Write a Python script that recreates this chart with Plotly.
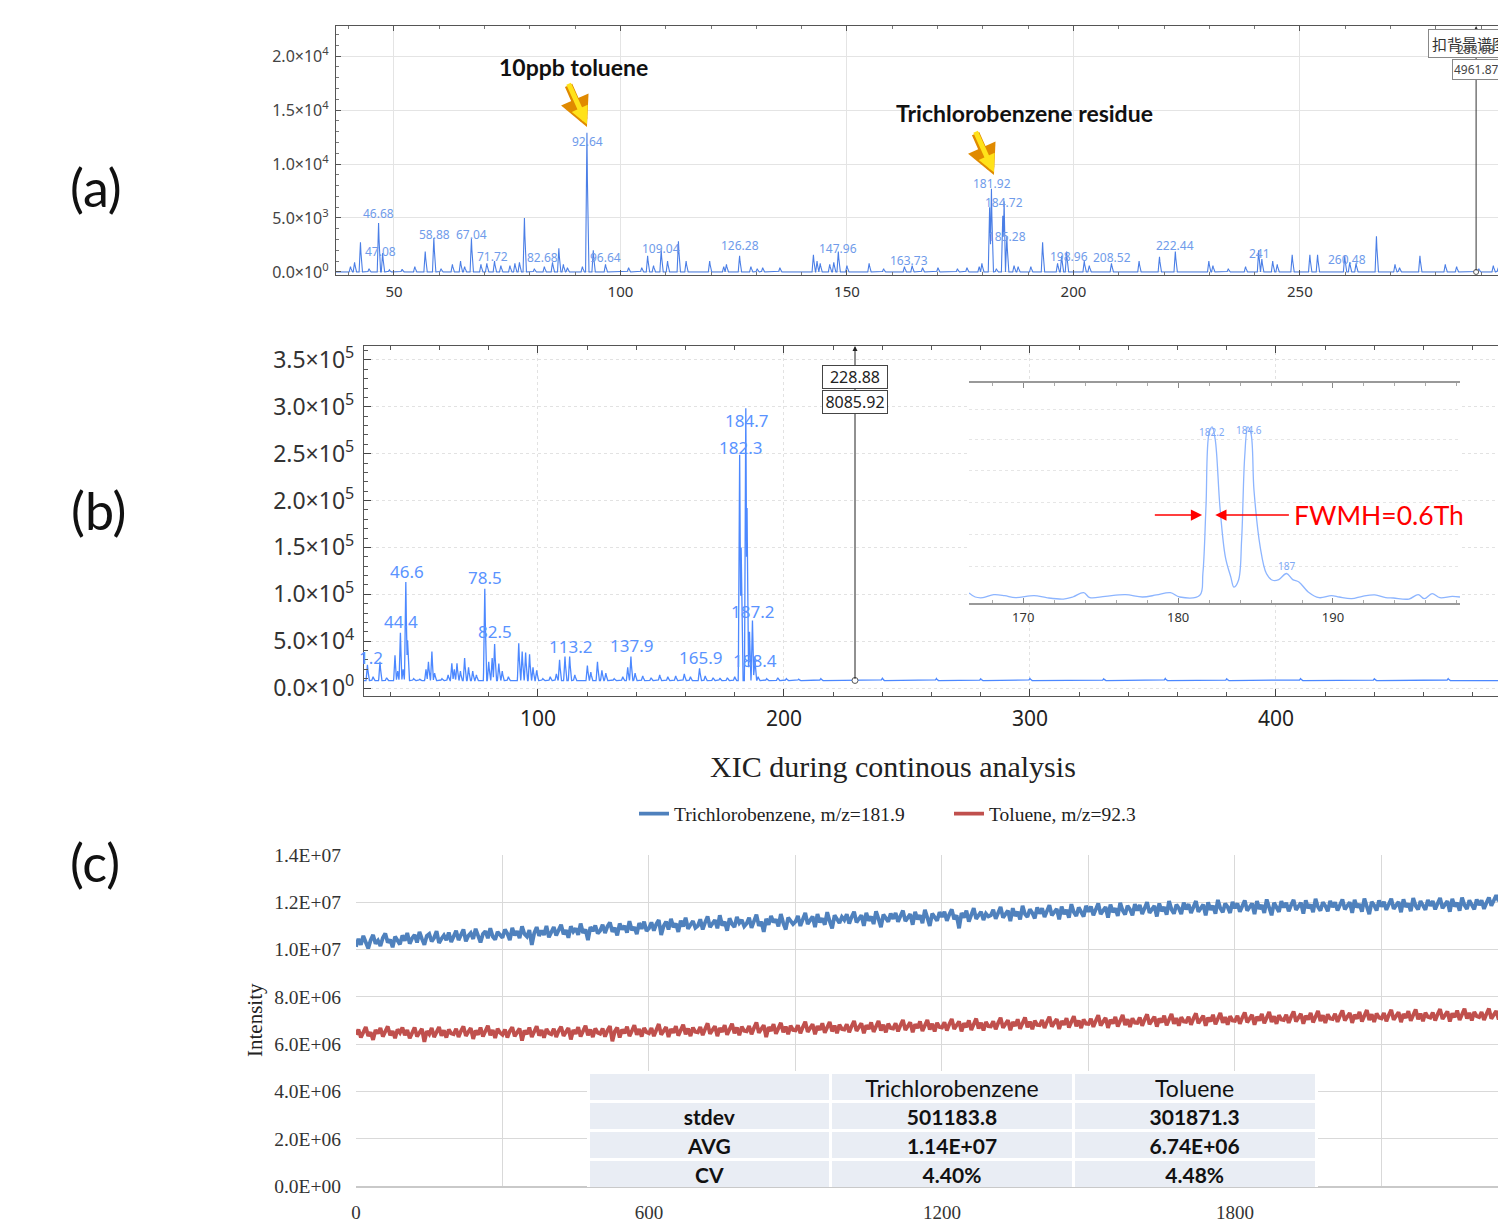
import numpy as np
import plotly.graph_objects as go

W, H = 1506, 1228
OFF = 8                      # default page margin of the html body
FW, FH = W - OFF, H - OFF

# ---------------- Panel (a): background-subtracted spectrum ----------------
a_mz = [40.4, 41.3, 42.6, 44.5, 46.6, 47.5, 49.0, 51.8, 54.6, 56.9, 58.8, 60.4, 62.9, 64.7, 65.6,
        67.1, 69.2, 70.5, 72.2, 73.6, 75.6, 76.7, 77.7, 78.8, 81.0, 83.2, 85.0, 86.4, 87.4, 88.3,
        91.6, 92.6, 94.0, 96.7, 101.8, 104.7, 106.0, 107.3, 109.0, 110.4, 112.8, 114.5, 119.7,
        122.8, 123.4, 126.3, 128.8, 130.2, 131.4, 135.2, 142.6, 143.4, 144.1, 146.2, 147.1, 148.1,
        150.0, 154.9, 158.1, 162.7, 164.4, 166.7, 170.1, 174.4, 176.5, 179.2, 179.8, 181.5, 181.9,
        183.0, 184.4, 184.7, 185.3, 186.9, 187.8, 190.6, 193.2, 196.5, 197.4, 198.5, 202.4, 203.5,
        208.4, 214.5, 219.0, 222.5, 229.9, 230.8, 234.2, 238.0, 240.9, 241.6, 244.0, 245.0, 248.3,
        252.2, 253.9, 259.9, 261.0, 262.4, 266.9, 271.0, 272.0, 276.5, 282.1, 284.6, 289.5, 292.7, 293.8]
a_int = [500, 900, 2750, 300, 4540, 1760, 200, 250, 500, 1900, 3150, 300, 700, 1000, 500,
         3060, 700, 800, 1000, 600, 600, 800, 900, 5000, 300, 500, 900, 2200, 700, 400,
         500, 12900, 2000, 700, 400, 400, 1500, 600, 2000, 1000, 2840, 1000, 1000,
         500, 700, 1500, 500, 300, 400, 400, 1600, 1000, 800, 700, 900, 1900,
         600, 800, 300, 500, 600, 400, 400, 300, 400, 500, 800, 6000, 7700,
         300, 5200, 6550, 3300, 600, 500, 500, 2750, 800, 1500, 1900, 1000, 600,
         800, 1000, 1400, 1900, 1000, 600, 300, 500, 2000, 1200, 1000, 700, 1600,
         1600, 1600, 1500, 900, 800, 3300, 700, 400, 1500, 700, 500, 300, 600, 400]
a_lab_text = ["46.68", "47.08", "58.88", "67.04", "71.72", "82.68", "92.64", "96.64", "109.04", "126.28",
              "147.96", "163.73", "181.92", "184.72", "185.28", "198.96", "208.52", "222.44", "241", "260.48"]
a_lab_y = [5460, 1940, 3430, 3430, 1480, 1300, 12130, 1300, 2130, 2410,
           2130, 1020, 8240, 6390, 3330, 1480, 1300, 2410, 1670, 1110]
a_ticks = [0, 5000, 10000, 15000, 20000]
a_ticktext = ["0.0×10<sup>0</sup>", "5.0×10<sup>3</sup>", "1.0×10<sup>4</sup>",
              "1.5×10<sup>4</sup>", "2.0×10<sup>4</sup>"]
a_cursor = (288.9, 4961.87)

# ---------------- Panel (b): full spectrum ----------------
b_base = 8000
b_mz = [30.7, 33.0, 35.8, 38.5, 41.9, 43.0, 44.1, 45.2, 46.3, 47.0, 49.5, 52.0, 54.5, 55.5, 56.9,
        58.0, 61.0, 63.5, 65.0, 66.0, 67.1, 68.5, 70.2, 71.8, 73.5, 75.0, 78.4, 80.0, 81.4, 82.4,
        84.1, 85.5, 88.0, 92.2, 93.6, 95.0, 96.6, 98.0, 99.5, 102.0, 105.0, 107.5, 108.8, 111.0,
        112.9, 115.0, 120.1, 121.5, 124.2, 126.0, 127.6, 131.0, 134.5, 136.5, 137.8, 139.5, 142.6,
        146.0, 149.5, 152.8, 156.0, 159.5, 162.0, 165.7, 168.0, 171.2, 174.0, 177.0, 180.0, 182.0,
        182.6, 184.5, 185.0, 186.0, 187.2, 188.2, 189.5, 193.0, 197.5, 201.0, 206.0, 215.0, 240.0,
        262.0, 280.0, 300.0, 330.0, 355.0, 380.0, 410.0, 440.0, 470.0]
b_int = [24700, 12000, 28000, 11000, 35000, 18000, 59000, 20000, 113000, 51000, 10000, 9500, 20000, 28000, 39000,
         16000, 10000, 14000, 26500, 20000, 26500, 18000, 32000, 22000, 18000, 14000, 106000, 28000, 32000, 47000,
         26000, 18000, 12000, 47700, 39000, 38000, 36000, 22000, 19000, 10000, 12000, 15000, 30000, 33500,
         33500, 14000, 24000, 17000, 28000, 19000, 16000, 10000, 12000, 22000, 33500, 16000, 13000,
         11000, 14000, 12000, 13000, 15000, 12000, 21000, 13000, 11000, 10500, 11000, 12000, 249000,
         150000, 298600, 192000, 60000, 72000, 33000, 12000, 10000, 11000, 10000, 9500, 10000, 10500,
         10200, 9800, 10300, 9900, 10200, 9800, 10100, 9900, 10000]
b_lab_text = ["1.2", "46.6", "44.4", "78.5", "82.5", "113.2", "137.9", "165.9", "184.7", "182.3", "187.2", "188.4"]
b_lab_x = [32.3, 46.6, 44.4, 78.5, 82.5, 113.2, 137.9, 165.9, 184.7, 182.3, 187.2, 188.4]
b_lab_y = [32900, 124200, 71100, 117800, 60500, 44600, 45650, 32900, 285600, 256900, 81700, 29700]
b_ticks = [0, 50000, 100000, 150000, 200000, 250000, 300000, 350000]
b_ticktext = ["0.0×10<sup>0</sup>", "5.0×10<sup>4</sup>", "1.0×10<sup>5</sup>", "1.5×10<sup>5</sup>",
              "2.0×10<sup>5</sup>", "2.5×10<sup>5</sup>", "3.0×10<sup>5</sup>", "3.5×10<sup>5</sup>"]
b_cursor = (228.88, 8085.92)

# inset (zoom of 166-198)
in_x = [166.5, 166.9, 167.4, 168.1, 168.8, 169.5, 170.7, 171.5, 172.6, 173.2, 173.9, 174.3, 175.3,
        176.6, 177.7, 178.6, 179.5, 180.1, 181.4, 181.6, 181.8, 182.0, 182.2, 182.4, 182.7, 183.05,
        183.4, 183.6, 183.9, 184.1, 184.3, 184.5, 184.7, 184.9, 185.3, 185.7, 186.1, 186.5, 187.0,
        187.4, 187.8, 188.4, 189.1, 189.9, 190.4, 191.2, 191.9, 192.7, 193.4, 193.9, 194.9, 195.5,
        195.9, 196.4, 196.9, 197.7, 198.2]
in_y = [2.4, 0.0, -0.4, 1.4, 0.8, -0.4, 0.8, -0.4, -1.2, 0.0, 2.6, -0.4, 0.4,
        1.4, 0.0, 1.2, 2.6, 0.0, 1.0, 13.9, 53.5, 97.0, 100.6, 93.0, 53.5, 23.8,
        11.9, 5.9, 9.9, 33.7, 83.0, 100.6, 97.0, 63.0, 29.7, 13.9, 9.9, 10.3, 13.9,
        10.3, 8.9, 3.0, -0.4, 0.8, 0.0, -1.0, 0.4, 1.2, -0.4, -0.6, -1.2, 1.4,
        -1.0, 2.0, -0.4, 0.4, 0.0]
in_lab_text = ["182.2", "184.6", "187"]
in_lab_x = [182.2, 184.6, 187.0]
in_lab_y = [97.6, 98.8, 18.3]

# ---------------- Panel (c): XIC (intensity in units of 1e4 counts, one value every 5 s) ----------------
t_sec = list(range(0, 2355, 5))
tcb_e4 = [
    1012, 1045, 1020, 1058, 1031, 1005, 1040, 1062, 1025, 1038, 1015, 1050, 1068, 1030, 1042, 1010, 1055, 1035, 1022, 1060,
    1038, 1070, 1025, 1048, 1062, 1030, 1075, 1045, 1020, 1058, 1066, 1035, 1050, 1078, 1028, 1046, 1060, 1040, 1072, 1032,
    1055, 1080, 1040, 1062, 1085, 1035, 1058, 1070, 1045, 1088, 1052, 1030, 1066, 1078, 1048, 1090, 1055, 1042, 1075, 1060,
    1050, 1085, 1068, 1040, 1092, 1060, 1078, 1048, 1098, 1066, 1055, 1082, 1020, 1070, 1095, 1058, 1080, 1062, 1100, 1052,
    1072, 1095, 1060, 1088, 1105, 1065, 1082, 1050, 1098, 1076, 1090, 1062, 1110, 1070, 1085, 1040, 1095, 1078, 1102, 1068,
    1080, 1105, 1070, 1098, 1115, 1075, 1092, 1060, 1110, 1085, 1100, 1072, 1120, 1082, 1095, 1065, 1112, 1088, 1118, 1078,
    1090, 1115, 1080, 1108, 1125, 1062, 1100, 1118, 1085, 1130, 1095, 1110, 1075, 1122, 1098, 1135, 1088, 1105, 1120, 1092,
    1100, 1128, 1085, 1115, 1140, 1095, 1110, 1125, 1090, 1145, 1102, 1118, 1080, 1132, 1108, 1095, 1138, 1112, 1125, 1098,
    1110, 1135, 1092, 1125, 1148, 1100, 1118, 1075, 1130, 1105, 1142, 1115, 1128, 1098, 1150, 1112, 1085, 1135, 1120, 1108,
    1118, 1142, 1100, 1130, 1155, 1108, 1125, 1140, 1095, 1150, 1115, 1132, 1105, 1158, 1120, 1090, 1145, 1128, 1112, 1138,
    1125, 1150, 1110, 1138, 1160, 1115, 1132, 1145, 1100, 1155, 1122, 1140, 1108, 1162, 1130, 1095, 1148, 1135, 1118, 1152,
    1130, 1155, 1118, 1142, 1165, 1120, 1138, 1150, 1105, 1160, 1128, 1145, 1112, 1168, 1135, 1100, 1152, 1140, 1122, 1158,
    1138, 1160, 1122, 1148, 1170, 1128, 1145, 1090, 1155, 1135, 1165, 1118, 1150, 1175, 1130, 1142, 1160, 1125, 1152, 1140,
    1145, 1168, 1130, 1155, 1180, 1135, 1152, 1165, 1120, 1175, 1142, 1160, 1128, 1185, 1150, 1138, 1170, 1155, 1132, 1178,
    1152, 1175, 1138, 1162, 1188, 1145, 1160, 1172, 1128, 1182, 1150, 1168, 1135, 1192, 1158, 1142, 1178, 1162, 1140, 1185,
    1160, 1182, 1145, 1170, 1195, 1150, 1168, 1180, 1135, 1190, 1158, 1175, 1142, 1198, 1165, 1148, 1185, 1170, 1145, 1192,
    1165, 1188, 1150, 1175, 1200, 1155, 1172, 1185, 1140, 1195, 1162, 1180, 1148, 1205, 1170, 1152, 1190, 1175, 1150, 1198,
    1170, 1192, 1155, 1180, 1205, 1160, 1176, 1190, 1145, 1200, 1168, 1185, 1152, 1210, 1175, 1158, 1195, 1180, 1155, 1202,
    1175, 1195, 1160, 1185, 1208, 1165, 1180, 1195, 1150, 1205, 1172, 1188, 1155, 1212, 1178, 1145, 1198, 1182, 1160, 1205,
    1178, 1198, 1162, 1188, 1210, 1168, 1182, 1198, 1152, 1208, 1175, 1190, 1158, 1215, 1180, 1165, 1200, 1185, 1162, 1206,
    1180, 1200, 1165, 1190, 1212, 1170, 1185, 1200, 1155, 1210, 1178, 1192, 1160, 1216, 1182, 1150, 1202, 1188, 1165, 1208,
    1182, 1202, 1168, 1192, 1215, 1172, 1188, 1202, 1158, 1212, 1180, 1195, 1162, 1218, 1185, 1170, 1205, 1190, 1168, 1210,
    1185, 1205, 1170, 1195, 1218, 1175, 1190, 1205, 1160, 1215, 1182, 1198, 1165, 1220, 1188, 1172, 1208, 1192, 1170, 1212,
    1188, 1208, 1172, 1198, 1220, 1185, 1210, 1230, 1205, 1245, 1262]
tol_e4 = [
    640, 662, 628, 655, 672, 635, 650, 618, 660, 645, 668, 632, 652, 675, 638, 655, 625, 662, 648, 670,
    638, 660, 625, 652, 670, 632, 648, 665, 610, 655, 642, 668, 630, 650, 672, 636, 658, 628, 662, 645,
    642, 665, 630, 655, 675, 635, 650, 668, 622, 658, 640, 670, 632, 652, 678, 638, 660, 626, 665, 648,
    640, 662, 628, 655, 672, 633, 650, 666, 615, 658, 642, 670, 630, 652, 676, 636, 660, 627, 664, 646,
    642, 665, 630, 656, 674, 635, 652, 668, 620, 660, 644, 672, 632, 654, 678, 638, 662, 630, 666, 648,
    644, 666, 632, 658, 676, 612, 654, 670, 628, 662, 646, 674, 634, 656, 680, 640, 664, 632, 668, 650,
    646, 668, 634, 660, 685, 640, 656, 672, 630, 664, 648, 676, 636, 658, 682, 642, 666, 634, 670, 652,
    650, 672, 638, 664, 688, 644, 660, 676, 634, 668, 652, 680, 640, 662, 686, 646, 670, 638, 674, 656,
    654, 676, 642, 668, 692, 648, 664, 680, 630, 672, 656, 684, 644, 666, 690, 650, 674, 642, 678, 660,
    658, 680, 646, 672, 695, 652, 668, 684, 642, 676, 660, 688, 648, 670, 694, 654, 678, 646, 682, 664,
    662, 684, 650, 676, 698, 656, 672, 688, 646, 680, 664, 692, 652, 674, 698, 658, 682, 650, 686, 668,
    666, 688, 654, 680, 702, 660, 676, 692, 650, 684, 668, 696, 656, 678, 702, 662, 686, 654, 690, 672,
    670, 692, 658, 684, 706, 664, 680, 696, 654, 688, 672, 700, 660, 682, 708, 666, 690, 658, 694, 676,
    675, 697, 663, 689, 712, 669, 685, 701, 659, 693, 677, 705, 665, 687, 713, 671, 695, 663, 699, 681,
    680, 702, 668, 694, 716, 674, 690, 706, 664, 698, 682, 710, 670, 692, 718, 676, 700, 668, 704, 686,
    685, 707, 673, 699, 722, 679, 695, 711, 669, 703, 687, 715, 675, 697, 723, 681, 705, 673, 709, 691,
    690, 712, 678, 704, 726, 684, 700, 716, 674, 708, 692, 720, 680, 702, 728, 686, 710, 678, 714, 696,
    694, 716, 682, 708, 730, 688, 704, 720, 678, 712, 696, 724, 684, 706, 732, 690, 714, 682, 718, 700,
    698, 720, 686, 712, 734, 692, 708, 724, 682, 716, 700, 728, 688, 710, 736, 694, 718, 686, 722, 704,
    702, 724, 690, 716, 738, 696, 712, 728, 686, 720, 704, 732, 692, 714, 740, 698, 722, 690, 726, 708,
    706, 728, 694, 720, 742, 700, 716, 732, 690, 724, 708, 736, 696, 718, 744, 702, 726, 694, 730, 712,
    709, 731, 697, 723, 745, 703, 719, 735, 693, 727, 711, 739, 699, 721, 747, 705, 729, 697, 733, 715,
    712, 734, 700, 726, 748, 706, 722, 738, 696, 730, 714, 742, 702, 724, 750, 708, 732, 700, 736, 718,
    714, 736, 702, 728, 750, 708, 724, 740, 704, 732, 716]
c_ticks = [0, 2e6, 4e6, 6e6, 8e6, 10e6, 12e6, 14e6]
c_ticktext = ["0.0E+00", "2.0E+06", "4.0E+06", "6.0E+06", "8.0E+06", "1.0E+07", "1.2E+07", "1.4E+07"]
c_xticks = [0, 300, 600, 900, 1200, 1500, 1800, 2100, 2400]
c_xticktext = ["0", "", "600", "", "1200", "", "1800", "", "2400"]

tbl_header = ["", "Trichlorobenzene", "Toluene"]
tbl_rows = ["stdev", "AVG", "CV"]
tbl_tcb = ["501183.8", "1.14E+07", "4.40%"]
tbl_tol = ["301871.3", "6.74E+06", "4.48%"]


# ---------------- helpers (reference pixel -> paper) ----------------
def px(x):
    return (x - OFF) / FW


def py(y):
    return 1 - (y - OFF) / FH


def render(mz, inten, base, hw, lo, hi, step):
    x = np.arange(lo, hi, step)
    y = np.full_like(x, float(base))
    for m, v in zip(mz, inten):
        tri = base + (v - base) * np.clip(1 - np.abs(x - m) / hw, 0, None)
        y = np.maximum(y, tri)
    return x, y


def paper_text(x, y, text, font, **kw):
    d = dict(x=px(x), y=py(y), xref="paper", yref="paper", text=text, showarrow=False,
             xanchor="center", yanchor="middle", font=font)
    d.update(kw)
    return d


A_LINE = "#4A7EE6"
A_LAB = "#6F9BEA"
B_LINE = "#4C88FF"
B_LAB = "#5A93FF"

fig = go.Figure()

ax_x, ax_y = render(a_mz, a_int, 0, 0.3, 37.2, 295.5, 0.05)
fig.add_trace(go.Scatter(x=ax_x, y=ax_y, mode="lines", line=dict(color=A_LINE, width=1.1),
                         xaxis="x", yaxis="y", showlegend=False, hoverinfo="skip"))
fig.add_trace(go.Scatter(x=[a_cursor[0]], y=[0], mode="markers",
                         marker=dict(size=5, color="white", line=dict(color="#555", width=1)),
                         xaxis="x", yaxis="y", showlegend=False, hoverinfo="skip"))

bx_x, bx_y = render(b_mz, b_int, b_base, 0.55, 29.3, 493.5, 0.1)
fig.add_trace(go.Scatter(x=bx_x, y=bx_y, mode="lines", line=dict(color=B_LINE, width=1.3),
                         xaxis="x2", yaxis="y2", showlegend=False, hoverinfo="skip"))
fig.add_trace(go.Scatter(x=[b_cursor[0]], y=[b_cursor[1]], mode="markers",
                         marker=dict(size=6, color="white", line=dict(color="#555", width=1)),
                         xaxis="x2", yaxis="y2", showlegend=False, hoverinfo="skip"))

fig.add_trace(go.Scatter(x=in_x, y=in_y, mode="lines", line=dict(color="#8DB5FF", width=1.3, shape="spline"),
                         xaxis="x3", yaxis="y3", showlegend=False, hoverinfo="skip"))

fig.add_trace(go.Scatter(x=t_sec, y=[v * 1e4 for v in tcb_e4], mode="lines",
                         name="Trichlorobenzene, m/z=181.9",
                         line=dict(color="#4F81BD", width=3.8), xaxis="x4", yaxis="y4"))
fig.add_trace(go.Scatter(x=t_sec, y=[v * 1e4 for v in tol_e4], mode="lines",
                         name="Toluene, m/z=92.3",
                         line=dict(color="#C0504D", width=3.8), xaxis="x4", yaxis="y4"))

fig.add_trace(go.Table(
    domain=dict(x=[px(588), px(1316)], y=[py(1188), py(1072)]),
    columnwidth=[1, 1, 1],
    header=dict(values=tbl_header, fill_color="#E9EDF4", line=dict(color="white", width=3),
                font=dict(family="Lato", size=23, color="#111"), height=29, align="center"),
    cells=dict(values=[tbl_rows, tbl_tcb, tbl_tol],
               fill_color="#E9EDF4", line=dict(color="white", width=3),
               font=dict(family="Lato", size=21, color="#111", weight="bold"), height=29, align="center"),
))

# ---------------- axes ----------------
frame = dict(showline=True, linecolor="#555", linewidth=1.2, mirror="ticks", ticks="inside",
             zeroline=False, automargin=False)
fig.update_layout(
    xaxis=dict(domain=[px(336), 1.0], range=[37.2, 295.5], anchor="y", **frame,
               tickvals=[50, 100, 150, 200, 250], ticklen=5, tickcolor="#555",
               minor=dict(dtick=10, ticks="inside", ticklen=3, tickcolor="#777", showgrid=False),
               showgrid=True, gridcolor="#E4E4E4",
               tickfont=dict(family="Noto Sans", size=15, color="#333"), ticklabelstandoff=3),
    yaxis=dict(domain=[py(275), py(26)], range=[-280, 22780], anchor="x", **frame,
               tickvals=a_ticks, ticktext=a_ticktext, ticklen=5, tickcolor="#555",
               minor=dict(dtick=1000, ticks="inside", ticklen=3, tickcolor="#777", showgrid=False),
               showgrid=True, gridcolor="#E4E4E4",
               tickfont=dict(family="Noto Sans", size=16, color="#444"), ticklabelstandoff=3),
    xaxis2=dict(domain=[px(364), 1.0], range=[29.3, 493.5], anchor="y2", **frame,
                tickvals=[100, 200, 300, 400], ticklen=7, tickcolor="#444",
                minor=dict(dtick=20, ticks="inside", ticklen=4, tickcolor="#555", showgrid=False),
                showgrid=True, gridcolor="#E2E2E2", griddash="dot",
                tickfont=dict(family="Noto Sans", size=21, color="#222"), ticklabelstandoff=4),
    yaxis2=dict(domain=[py(696), py(346)], range=[-8500, 364900], anchor="x2", **frame,
                tickvals=b_ticks, ticktext=b_ticktext, ticklen=7, tickcolor="#444",
                minor=dict(dtick=10000, ticks="inside", ticklen=4, tickcolor="#555", showgrid=False),
                showgrid=True, gridcolor="#E2E2E2", griddash="dot",
                tickfont=dict(family="Noto Sans", size=23, color="#333"), ticklabelstandoff=4),
    xaxis3=dict(domain=[px(969), px(1460)], range=[166.5, 198.2], anchor="y3",
                showline=True, linecolor="#999", linewidth=1.6, mirror="ticks", ticks="inside",
                tickvals=[170, 180, 190], ticklen=5, tickcolor="#888", automargin=False,
                minor=dict(dtick=2, ticks="inside", ticklen=3, tickcolor="#aaa", showgrid=False),
                showgrid=False, zeroline=False,
                tickfont=dict(family="Noto Sans", size=13, color="#333"), ticklabelstandoff=2),
    yaxis3=dict(domain=[py(603), py(383)], range=[-3.55, 126.6], anchor="x3", automargin=False,
                showline=False, showticklabels=False, ticks="", zeroline=False,
                tickvals=[18, 37, 56, 75, 93, 111], showgrid=True, gridcolor="#E6E6E6", griddash="dot"),
    xaxis4=dict(domain=[px(356), 1.0], range=[0, 2355], anchor="y4", automargin=False,
                tickvals=c_xticks, ticktext=c_xticktext, ticks="",
                showgrid=True, gridcolor="#D9D9D9", zeroline=False,
                showline=True, linecolor="#C9C9C9", linewidth=1.5,
                tickfont=dict(family="Liberation Serif", size=19, color="#333"), ticklabelstandoff=8),
    yaxis4=dict(domain=[py(1186), py(855)], range=[0, 1.4e7], anchor="x4", automargin=False,
                tickvals=c_ticks, ticktext=c_ticktext, ticks="",
                showgrid=True, gridcolor="#D9D9D9", zeroline=False, showline=False,
                tickfont=dict(family="Liberation Serif", size=19.5, color="#333"), ticklabelstandoff=14),
)

# ---------------- annotations ----------------
ann = []
for t, y in zip(a_lab_text, a_lab_y):
    ann.append(dict(x=float(t), y=y, xref="x", yref="y", text=t, showarrow=False,
                    xanchor="center", yanchor="middle",
                    font=dict(family="Noto Sans", size=12, color=A_LAB)))
for t, x, y in zip(b_lab_text, b_lab_x, b_lab_y):
    ann.append(dict(x=x, y=y, xref="x2", yref="y2", text=t, showarrow=False,
                    xanchor="center", yanchor="middle",
                    font=dict(family="Noto Sans", size=17, color=B_LAB)))
for t, x, y in zip(in_lab_text, in_lab_x, in_lab_y):
    ann.append(dict(x=x, y=y, xref="x3", yref="y3", text=t, showarrow=False,
                    xanchor="center", yanchor="middle",
                    font=dict(family="Noto Sans", size=10, color="#7EA8F5")))

# yellow arrows (a)
for (hx, hy) in [(92.6, 13430), (182.45, 8980)]:
    ann.append(dict(x=hx, y=hy, xref="x", yref="y", ax=-19, ay=-43, text="", showarrow=True,
                    arrowhead=2, arrowsize=0.75, arrowwidth=8, arrowcolor="#E08A00"))
    ann.append(dict(x=hx, y=hy + 250, xref="x", yref="y", ax=-19, ay=-42, text="", showarrow=True,
                    arrowhead=2, arrowsize=0.7, arrowwidth=5, arrowcolor="#FFE21A"))
ann.append(paper_text(573, 67, "<b>10ppb toluene</b>", dict(family="Lato", size=23, color="#111")))
ann.append(paper_text(1024, 113, "<b>Trichlorobenzene residue</b>", dict(family="Lato", size=23, color="#111")))

# cursors
ann.append(dict(x=a_cursor[0], y=22780, xref="x", yref="y", ax=a_cursor[0], ay=0, axref="x", ayref="y",
                text="", showarrow=True, arrowhead=2, arrowsize=1, arrowwidth=1, arrowcolor="#333"))
ann.append(paper_text(1428, 44, "扣背景谱图", dict(family="Noto Sans CJK SC", size=15, color="#333"),
                      xanchor="left", bgcolor="white", bordercolor="#888", borderwidth=1, borderpad=3))
ann.append(paper_text(1476, 49, "288.08", dict(family="Noto Sans", size=12, color="#555")))
ann.append(paper_text(1476, 69, "%.2f" % a_cursor[1], dict(family="Noto Sans", size=12, color="#444"),
                      bgcolor="white", bordercolor="#888", borderwidth=1, borderpad=1))

ann.append(dict(x=b_cursor[0], y=364900, xref="x2", yref="y2", ax=b_cursor[0], ay=b_cursor[1],
                axref="x2", ayref="y2", text="", showarrow=True, arrowhead=2, arrowsize=1,
                arrowwidth=1, arrowcolor="#222"))
ann.append(paper_text(854.5, 377, "%.2f" % b_cursor[0], dict(family="Noto Sans", size=16, color="#222"),
                      bgcolor="white", bordercolor="#444", borderwidth=1, width=62, height=20))
ann.append(paper_text(854.5, 402, "%.2f" % b_cursor[1], dict(family="Noto Sans", size=16, color="#222"),
                      bgcolor="white", bordercolor="#444", borderwidth=1, width=62, height=20))

# FWHM arrows (inset)
ann.append(dict(x=181.55, y=48.5, xref="x3", yref="y3", ax=178.4, ay=48.5, axref="x3", ayref="y3",
                text="", showarrow=True, arrowhead=2, arrowsize=1.5, arrowwidth=1.5, arrowcolor="#FF0000"))
ann.append(dict(x=182.4, y=48.5, xref="x3", yref="y3", ax=187.25, ay=48.5, axref="x3", ayref="y3",
                text="", showarrow=True, arrowhead=2, arrowsize=1.5, arrowwidth=1.5, arrowcolor="#FF0000"))
ann.append(dict(x=187.35, y=48.5, xref="x3", yref="y3", xanchor="left", yanchor="middle", text="FWMH=0.6Th",
                showarrow=False, font=dict(family="Lato", size=26.5, color="#FF0000")))

# panel (c) texts
ann.append(paper_text(893, 766, "XIC during continous analysis",
                      dict(family="Liberation Serif", size=30, color="#222")))
ann.append(paper_text(255, 1020, "Intensity", dict(family="Liberation Serif", size=21, color="#222"),
                      textangle=-90))

# panel letters
for lab, xx, yy in [("(a)", 96, 187), ("(b)", 98, 510), ("(c)", 95, 862)]:
    ann.append(paper_text(xx, yy, lab, dict(family="Lato", size=52, color="#111")))

# white background of the inset (covers the main-panel grid beneath it)
shapes = [
    dict(type="rect", xref="x3", yref="y3", x0=166.5, x1=198.2, y0=-3.55, y1=126.6,
         fillcolor="white", line=dict(width=0), layer="below"),
]

fig.update_layout(
    width=FW, height=FH, margin=dict(l=0, r=0, t=0, b=0, autoexpand=False), autosize=False,
    paper_bgcolor="white", plot_bgcolor="white",
    annotations=ann, shapes=shapes,
    showlegend=True,
    legend=dict(orientation="h", x=px(634), xanchor="left", y=py(814), yanchor="middle",
                entrywidth=270, entrywidthmode="pixels",
                font=dict(family="Liberation Serif", size=19.5, color="#222"),
                bgcolor="rgba(0,0,0,0)"),
)

fig.write_html("out.html")
